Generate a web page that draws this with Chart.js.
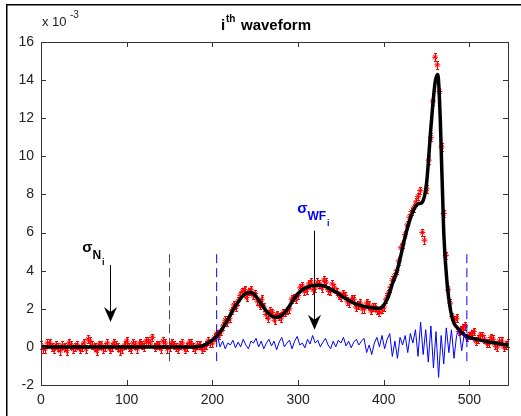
<!DOCTYPE html>
<html><head><meta charset="utf-8">
<script src="https://cdn.jsdelivr.net/npm/chart.js@4.4.1/dist/chart.umd.min.js"></script>
<style>html,body{margin:0;padding:0;background:#fff;}#wrap{width:521px;height:416px;position:relative;}</style>
</head><body><div id="wrap"><canvas id="c" width="521" height="416"></canvas></div>
<script>
// ---- data (values in units of 1e-3) ----
const xTicks = [0, 100, 200, 300, 400, 500];
const yTicks = [-2, 0, 2, 4, 6, 8, 10, 12, 14, 16];
const xRange = [0, 545];
const yRange = [-2, 16];

// raw waveform samples (red stars), sample index 0..545 step 5
const rawStart = 0, rawStep = 5;
const rawValues = [
  0.1, -0.1, 0.2, -0.1, 0.0, 0.1, -0.2, 0.1, 0.0, -0.1,
  0.2, 0.4, 0.1, -0.2, 0.1, 0.0, -0.1, 0.2, 0.0, -0.1,
  0.3, -0.1, 0.1, 0.2, 0.0, 0.3, 0.5, 0.1, -0.1, 0.2,
  0.0, 0.1, -0.1, 0.2, 0.0, 0.2, -0.1, 0.1, 0.0, 0.3,
  0.2, 0.7, 0.8, 1.4, 1.5, 2.2, 2.4, 2.9, 2.6, 3.0,
  2.8, 2.2, 2.1, 1.5, 1.8, 1.7, 1.5, 1.8, 2.0, 2.6,
  2.7, 3.2, 3.0, 3.4, 3.1, 3.3, 3.5, 3.0, 3.3, 2.9,
  2.6, 2.7, 2.3, 2.5, 2.2, 2.0, 2.3, 1.9, 2.1, 1.8,
  2.1, 2.8, 3.5, 4.0, 5.2, 5.9, 6.8, 7.3, 7.9, 6.0,
  8.3, 11.0, 15.2, 13.4, 7.0, 3.0, 1.6, 1.5, 0.9, 1.1,
  0.6, 0.8, 0.4, 0.6, 0.2, 0.5, 0.1, 0.3, 0.0, 0.2
];
// interleaved raw samples, sample index 2.5..542.5 step 5
const rawMidStart = 2.5;
const rawMidValues = [
  -0.1, 0.2, 0.0, 0.1, -0.2, 0.0, 0.2, -0.1, 0.1, 0.0,
  -0.1, 0.3, 0.0, 0.1, -0.1, 0.2, 0.0, 0.1, -0.2, 0.1,
  0.0, 0.2, -0.1, 0.1, 0.3, 0.2, 0.0, 0.1, 0.3, -0.1,
  0.2, 0.0, 0.1, -0.1, 0.2, 0.0, 0.1, -0.1, 0.1, 0.2,
  0.5, 0.6, 1.1, 1.3, 1.9, 2.1, 2.7, 3.0, 2.9, 2.7,
  2.4, 2.5, 1.7, 1.9, 1.4, 1.6, 1.8, 1.9, 2.5, 2.5,
  3.1, 2.9, 3.3, 3.0, 3.4, 3.1, 3.4, 2.9, 3.1, 2.7,
  2.8, 2.4, 2.5, 2.1, 2.3, 2.0, 2.2, 2.1, 1.9, 2.0,
  2.5, 3.1, 3.7, 4.5, 5.4, 6.4, 7.1, 7.6, 8.2, 5.6,
  9.8, 12.9, 14.8, 10.5, 4.8, 2.3, 1.4, 0.8, 1.0, 0.5,
  0.7, 0.3, 0.6, 0.4, 0.2, 0.4, 0.0, 0.3, 0.1
];
const rawErr = 0.2;

// fitted waveform (black line)
const fitX = [0, 180, 185, 190, 195, 200, 205, 210, 215, 220, 225, 230, 235, 240, 245, 250, 255, 260, 265, 270,
  275, 280, 285, 290, 295, 300, 305, 310, 315, 320, 325, 330, 335, 340, 345, 350, 355, 360, 365, 370,
  375, 380, 385, 390, 395, 400, 405, 410, 415, 420, 425, 430, 435, 440, 445, 450, 455, 460, 463, 466,
  470, 474, 478, 482, 486, 490, 495, 500, 510, 520, 530, 545];
const fitY = [0, 0, 0.02, 0.08, 0.2, 0.35, 0.55, 0.85, 1.2, 1.6, 2.0, 2.35, 2.65, 2.82, 2.85, 2.7, 2.4, 2.05, 1.78, 1.6,
  1.56, 1.62, 1.82, 2.15, 2.5, 2.8, 3.0, 3.12, 3.2, 3.24, 3.24, 3.2, 3.1, 2.98, 2.85, 2.7, 2.55, 2.42, 2.3, 2.22,
  2.15, 2.1, 2.06, 2.03, 2.03, 2.2, 2.6, 3.3, 3.9, 4.8, 5.8, 6.6, 7.2, 7.5, 7.6, 8.6, 11.5, 13.9, 14.3, 11.9,
  6.0, 3.3, 1.9, 1.25, 1.0, 0.8, 0.6, 0.5, 0.38, 0.28, 0.2, 0.1];

// residual (blue line), sample index 206..500 step 3
const resStart = 206, resStep = 3;
const residualValues = [
  0.55, 0.0, 0.3, -0.1, 0.2, 0.1, 0.35, -0.05, 0.25, 0.0,
  0.4, 0.1, -0.1, 0.3, 0.2, 0.45, 0.0, 0.3, -0.1, 0.2,
  0.4, 0.05, 0.3, -0.15, 0.25, 0.5, 0.0, 0.2, 0.35, -0.1,
  0.3, 0.55, 0.1, 0.2, -0.05, 0.4, 0.15, 0.6, 0.2, 0.35,
  0.0, 0.25, 0.45, 0.1, -0.1, 0.3, 0.0, 0.35, 0.2, 0.5,
  0.05, 0.3, -0.05, 0.25, 0.4, 0.1, 0.3, 0.45, -0.3, 0.1,
  -0.4, 0.2, 0.5, 0.0, 0.6, -0.1, 0.4, 0.7, -0.5, 0.3,
  -0.6, 0.5, 0.1, 0.6, -0.3, 0.7, 0.2, 0.9, -0.5, 1.3,
  -0.4, 0.9, -0.8, 1.1, -1.1, 0.8, -1.6, 0.6, -0.9, 1.0,
  -0.3, 0.9, -0.6, 0.6, 0.9, -0.2, 0.7, 0.3, 0.5
];

// window markers (dashed lines)
const noiseWindowX = [150];
const signalWindowX = [205, 497];
const windowSpan = [-0.75, 5.0];

// annotations (data coordinates)
const noiseArrow = {x: 80, from: 4.3, to: 1.3};
const noiseLabel = {x: 48, y: 5.0};
const wfArrow = {x: 319, from: 6.1, to: 0.9};
const wfLabel = {x: 299, y: 7.05};

// ---- build datasets ----
const rawPts = [];
rawValues.forEach((v, i) => rawPts.push({x: rawStart + i * rawStep, y: v}));
rawMidValues.forEach((v, i) => rawPts.push({x: rawMidStart + i * rawStep, y: v}));
rawPts.sort((a, b) => a.x - b.x);
const fitPts = fitX.map((x, i) => ({x: x, y: fitY[i]}));
const resPts = residualValues.map((v, i) => ({x: resStart + i * resStep, y: v}));

function vline(x, color) {
  return {data: [{x: x, y: windowSpan[0]}, {x: x, y: windowSpan[1]}], showLine: true, borderColor: color,
    borderWidth: 1, borderDash: [9, 5], pointRadius: 0, order: 1};
}

const FONT = '"Liberation Sans", Arial, sans-serif';

const errBars = {
  id: 'errBars',
  afterDatasetDraw(chart, args) {
    if (args.index !== 0) return;
    const ctx = chart.ctx, xs = chart.scales.x, ys = chart.scales.y;
    ctx.save();
    ctx.strokeStyle = '#ff0000'; ctx.lineWidth = 1;
    ctx.beginPath();
    rawPts.forEach(p => {
      const px = Math.round(xs.getPixelForValue(p.x)) + 0.5;
      const t = Math.round(ys.getPixelForValue(p.y + rawErr)) + 0.5;
      const b = Math.round(ys.getPixelForValue(p.y - rawErr)) + 0.5;
      ctx.moveTo(px, t); ctx.lineTo(px, b);
      ctx.moveTo(px - 1.5, t); ctx.lineTo(px + 1.5, t);
      ctx.moveTo(px - 1.5, b); ctx.lineTo(px + 1.5, b);
    });
    ctx.stroke();
    ctx.restore();
  }
};

const decor = {
  id: 'decor',
  afterDraw(chart) {
    const ctx = chart.ctx, a = chart.chartArea;
    const xs = chart.scales.x, ys = chart.scales.y;
    ctx.save();
    // figure frame
    ctx.fillStyle = '#000';
    ctx.fillRect(6, 4, 1.5, 412);
    ctx.fillRect(6, 4, 515, 1.5);
    // axes box
    ctx.strokeStyle = '#333';
    ctx.lineWidth = 1;
    ctx.strokeRect(Math.round(a.left) + 0.5, Math.round(a.top) + 0.5, Math.round(a.right - a.left), Math.round(a.bottom - a.top));
    // inward ticks
    ctx.beginPath();
    xTicks.forEach(v => {
      const px = Math.round(xs.getPixelForValue(v)) + 0.5;
      ctx.moveTo(px, a.bottom); ctx.lineTo(px, a.bottom - 5);
      ctx.moveTo(px, a.top); ctx.lineTo(px, a.top + 5);
    });
    yTicks.forEach(v => {
      const py = Math.round(ys.getPixelForValue(v)) + 0.5;
      ctx.moveTo(a.left, py); ctx.lineTo(a.left + 5, py);
      ctx.moveTo(a.right, py); ctx.lineTo(a.right - 5, py);
    });
    ctx.stroke();
    // title
    ctx.fillStyle = '#000';
    ctx.textBaseline = 'alphabetic';
    ctx.textAlign = 'left';
    ctx.font = 'bold 15px ' + FONT;
    ctx.fillText('i', 221, 30);
    ctx.font = 'bold 10px ' + FONT;
    ctx.fillText('th', 226, 22);
    ctx.font = 'bold 15px ' + FONT;
    ctx.fillText('waveform', 241, 30);
    // exponent
    ctx.font = '13px ' + FONT;
    ctx.fillStyle = '#222';
    ctx.fillText('x 10', 42, 26);
    ctx.font = '10px ' + FONT;
    ctx.fillText('-3', 70, 18);
    // arrows
    function arrow(x, y0, y1, color) {
      const px = Math.round(xs.getPixelForValue(x)) + 0.5;
      const p0 = ys.getPixelForValue(y0), p1 = ys.getPixelForValue(y1);
      ctx.strokeStyle = color; ctx.fillStyle = color; ctx.lineWidth = 1;
      ctx.beginPath(); ctx.moveTo(px, p0); ctx.lineTo(px, p1 - 8); ctx.stroke();
      ctx.beginPath();
      ctx.moveTo(px, p1);
      ctx.lineTo(px - 6.5, p1 - 15);
      ctx.lineTo(px, p1 - 10);
      ctx.lineTo(px + 6.5, p1 - 15);
      ctx.closePath(); ctx.fill();
    }
    arrow(noiseArrow.x, noiseArrow.from, noiseArrow.to, '#000');
    arrow(wfArrow.x, wfArrow.from, wfArrow.to, '#000');
    // labels
    function sigma(lbl, sub, color) {
      const px = xs.getPixelForValue(lbl.x), py = ys.getPixelForValue(lbl.y);
      ctx.fillStyle = color;
      ctx.font = 'bold 15px ' + FONT;
      ctx.fillText('σ', px, py);
      const w = ctx.measureText('σ').width;
      ctx.font = 'bold 12px ' + FONT;
      ctx.fillText(sub, px + w, py + 7);
      const w2 = ctx.measureText(sub).width;
      ctx.font = 'bold 9px ' + FONT;
      ctx.fillText('i', px + w + w2 + 1, py + 13);
    }
    sigma(noiseLabel, 'N', '#000');
    sigma(wfLabel, 'WF', '#0000ff');
    ctx.restore();
  }
};

new Chart(document.getElementById('c'), {
  type: 'scatter',
  data: {
    datasets: [
      {data: rawPts, showLine: false, pointStyle: 'star', pointRadius: 3, borderColor: '#ff0000',
        backgroundColor: '#ff0000', borderWidth: 1, order: 4},
      {data: fitPts, showLine: true, borderColor: '#000', borderWidth: 3.5, pointRadius: 0,
        cubicInterpolationMode: 'monotone', order: 3},
      {data: resPts, showLine: true, borderColor: '#0000ff', borderWidth: 1, pointRadius: 0, tension: 0, order: 2},
      vline(noiseWindowX[0], '#444'),
      vline(signalWindowX[0], '#0000ff'),
      vline(signalWindowX[1], '#0000ff')
    ]
  },
  options: {
    responsive: false,
    animation: false,
    devicePixelRatio: 1,
    layout: {padding: {top: 42, right: 13, left: 0, bottom: 0}},
    plugins: {legend: {display: false}, tooltip: {enabled: false}, title: {display: false}},
    scales: {
      x: {
        type: 'linear', min: xRange[0], max: xRange[1],
        afterBuildTicks: s => { s.ticks = xTicks.map(v => ({value: v})); },
        afterFit: s => { s.height = 31; },
        grid: {display: false, drawTicks: false},
        border: {display: false},
        ticks: {color: '#222', font: {family: FONT, size: 14}, padding: 7, maxRotation: 0}
      },
      y: {
        type: 'linear', min: yRange[0], max: yRange[1],
        afterBuildTicks: s => { s.ticks = yTicks.map(v => ({value: v})); },
        afterFit: s => { s.width = 41; },
        grid: {display: false, drawTicks: false},
        border: {display: false},
        ticks: {color: '#222', font: {family: FONT, size: 14}, padding: 7}
      }
    }
  },
  plugins: [errBars, decor]
});
</script>
</body></html>
